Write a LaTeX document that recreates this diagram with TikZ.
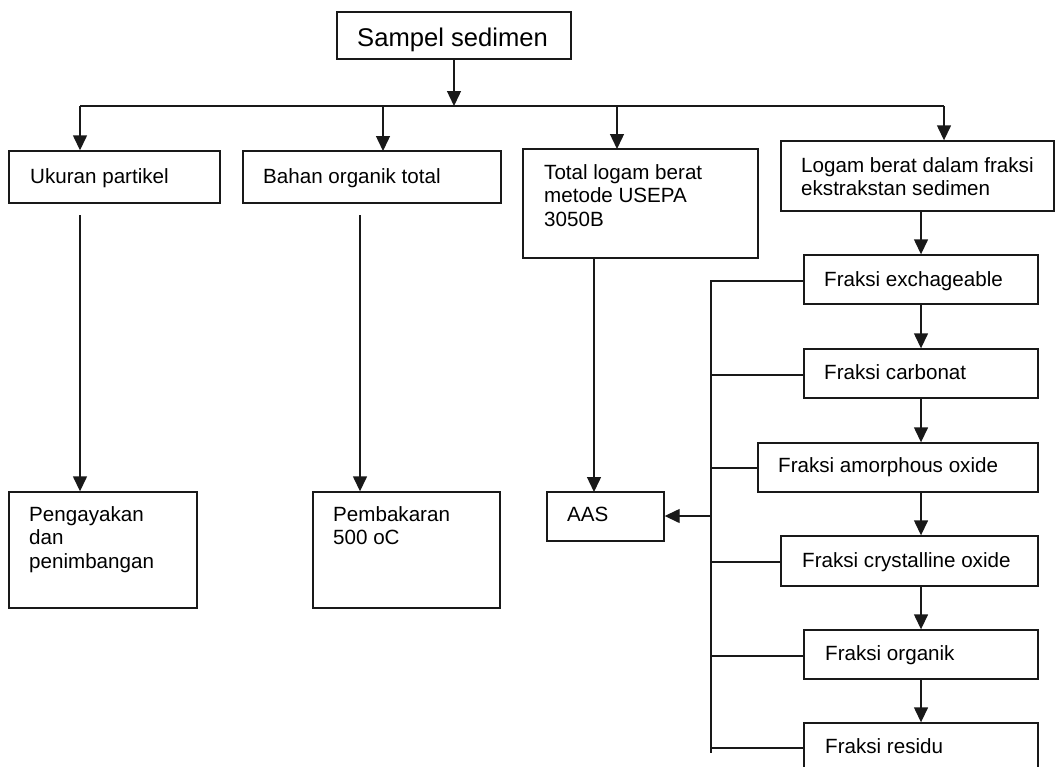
\documentclass[tikz,border=0pt]{standalone}
\usepackage{fontspec}
\setmainfont{Liberation Sans}
\usetikzlibrary{arrows.meta,fit}
\newcommand{\stackl}[1]{\vtop{\halign{##\hfil\cr#1\crcr}}}
\tikzset{
  x=1pt, y=-1pt,
  boxst/.style={draw=black!90, line width=1.4pt, inner sep=0pt},
  txt/.style={inner sep=0pt, anchor=base west,
    font=\fontsize{20.6}{23.5}\selectfont},
  bigtxt/.style={inner sep=0pt, anchor=base west,
    font=\fontsize{25.6}{30}\selectfont},
  conn/.style={line width=1.4pt, draw=black!90},
  arr/.style={conn, -{Triangle[length=15pt,width=14pt]}},
}
\begin{document}
\begin{tikzpicture}
\useasboundingbox (0,0) rectangle (1056,766);
\clip (0,0) rectangle (1056,766);
\fill[white] (0,0) rectangle (1056,766);

% boxes
\node[boxst, fit={(337,12) (571,59)}] (sampel) {};
\node[boxst, fit={(9,151) (220,203)}] (ukuran) {};
\node[boxst, fit={(243,151) (501,203)}] (bahan) {};
\node[boxst, fit={(523,149) (758,258)}] (total) {};
\node[boxst, fit={(781,141) (1054,211)}] (logam) {};
\node[boxst, fit={(804,255) (1038,304)}] (exch) {};
\node[boxst, fit={(804,349) (1038,398)}] (carb) {};
\node[boxst, fit={(758,443) (1038,492)}] (amor) {};
\node[boxst, fit={(781,536) (1038,586)}] (crys) {};
\node[boxst, fit={(804,630) (1038,679)}] (orga) {};
\node[boxst, fit={(804,723) (1038,790)}] (resi) {};
\node[boxst, fit={(9,492) (197,608)}] (penga) {};
\node[boxst, fit={(313,492) (500,608)}] (pemba) {};
\node[boxst, fit={(547,492) (664,541)}] (aas) {};

% texts
\node[bigtxt] (sampelT) at (357,46) {Sampel sedimen};
\node[txt] (ukuranT) at (30,183) {Ukuran partikel};
\node[txt] (bahanT) at (263,183) {Bahan organik total};
\node[txt] (totalT) at (544,179) {\stackl{Total logam berat\cr metode USEPA\cr 3050B}};
\node[txt] (logamT) at (801,172) {\stackl{Logam berat dalam fraksi\cr ekstrakstan sedimen}};
\node[txt] (exchT) at (824,286) {Fraksi exchageable};
\node[txt] (carbT) at (824,379) {Fraksi carbonat};
\node[txt] (amorT) at (778,472) {Fraksi amorphous oxide};
\node[txt] (crysT) at (802,567) {Fraksi crystalline oxide};
\node[txt] (orgaT) at (825,660) {Fraksi organik};
\node[txt] (resiT) at (825,753) {Fraksi residu};
\node[txt] (pengaT) at (29,521) {\stackl{Pengayakan\cr dan\cr penimbangan}};
\node[txt] (pembaT) at (333,521) {\stackl{Pembakaran\cr 500 oC}};
\node[txt] (aasT) at (567,521) {AAS};

% top distribution bus
\coordinate (busS) at (454,106);
\coordinate (busL) at (80,106);
\coordinate (busR) at (944,106);
\draw[arr] (sampel.south -| busS) -- (busS);
\draw[conn] (busL) -- (busR);
\draw[arr] (busL) -- (busL |- ukuran.north);
\draw[arr] (383,106) -- (383,151);
\draw[arr] (617,106) -- (617,149);
\draw[arr] (busR) -- (busR |- logam.north);

% down to result boxes
\coordinate (uk0) at (80,215);
\coordinate (ba0) at (360,215);
\draw[arr] (uk0) -- (uk0 |- penga.north);
\draw[arr] (ba0) -- (ba0 |- pemba.north);
\draw[arr] (594,258) -- (594,492);

% fraction chain
\coordinate (fx) at (921,0);
\draw[arr] (fx |- logam.south) -- (fx |- exch.north);
\draw[arr] (fx |- exch.south) -- (fx |- carb.north);
\draw[arr] (fx |- carb.south) -- (fx |- amor.north);
\draw[arr] (fx |- amor.south) -- (fx |- crys.north);
\draw[arr] (fx |- crys.south) -- (fx |- orga.north);
\draw[arr] (fx |- orga.south) -- (fx |- resi.north);

% left collector bus
\coordinate (cb) at (711,281);
\coordinate (cbEnd) at (711,753);
\draw[conn] (exch.west |- cb) -- (cb) -- (cbEnd);
\draw[conn] (711,375) -- (carb.west |- 0,375);
\draw[conn] (711,468) -- (amor.west |- 0,468);
\draw[conn] (711,562) -- (crys.west |- 0,562);
\draw[conn] (711,656) -- (orga.west |- 0,656);
\draw[conn] (711,748) -- (resi.west |- 0,748);
\draw[arr] (711,516) -- (aas.east |- 0,516);
\end{tikzpicture}
\end{document}
